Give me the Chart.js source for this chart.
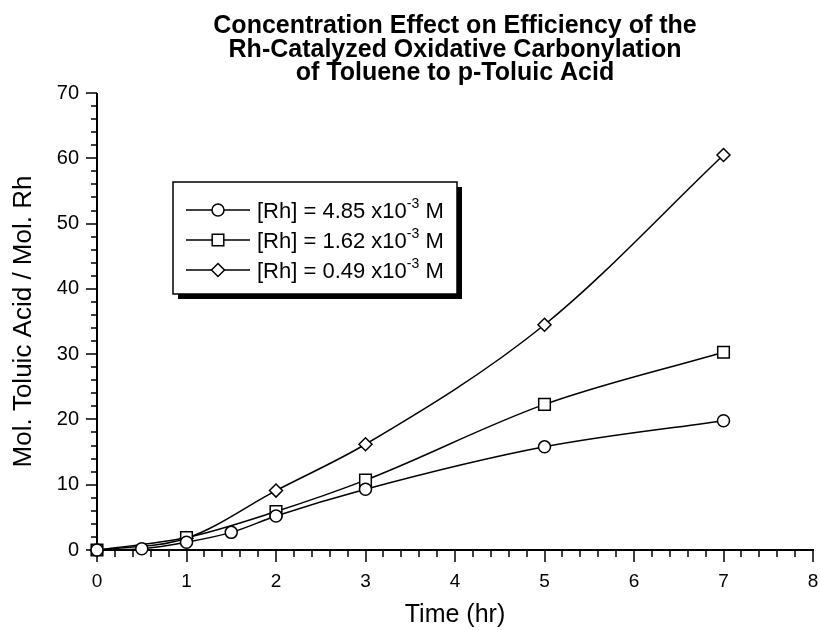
<!DOCTYPE html>
<html><head><meta charset="utf-8">
<script src="https://cdn.jsdelivr.net/npm/chart.js@4/dist/chart.umd.min.js"></script>
<style>html,body{margin:0;padding:0;background:#fff}#wrap{width:820px;height:630px;position:relative}</style>
</head><body><div id="wrap"><canvas id="c" width="820" height="630"></canvas></div>
<script>
const titleLines = ['Concentration Effect on Efficiency of the', 'Rh-Catalyzed Oxidative Carbonylation', 'of Toluene to p-Toluic Acid'];
const xTitle = 'Time (hr)';
const yTitle = 'Mol. Toluic Acid / Mol. Rh';
const seriesConc = ['4.85', '1.62', '0.49'];
const seriesMarkers = ['circle', 'rect', 'rectRot'];

const timeA = [0, 0.5, 1, 1.5, 2, 3, 5, 7];
const valuesA = [0, 0.2, 1.2, 2.7, 5.2, 9.3, 15.8, 19.8];
const timeB = [0, 1, 2, 3, 5, 7];
const valuesB = [0, 1.9, 5.9, 10.7, 22.3, 30.3];
const timeC = [0, 1, 2, 3, 5, 7];
const valuesC = [0, 1.8, 9.1, 16.2, 34.5, 60.5];

const xMin = 0, xMax = 8, xMajor = 1, xMinor = 0.2;
const yMin = 0, yMax = 70, yMajor = 10, yMinor = 2;

const FONT = '"Liberation Sans", Arial, sans-serif';
const markerRadius = {circle: 6, rect: 8.2, rectRot: 6.5};

function pts(xs, ys) { return xs.map((x, i) => ({x: x, y: ys[i]})); }

function drawMarker(ctx, style, x, y) {
  const r = markerRadius[style];
  ctx.save();
  ctx.fillStyle = '#fff';
  ctx.strokeStyle = '#000';
  ctx.lineWidth = 1.5;
  ctx.beginPath();
  if (style === 'circle') {
    ctx.arc(x, y, r, 0, Math.PI * 2);
  } else if (style === 'rect') {
    const s = Math.SQRT1_2 * r;
    ctx.rect(x - s, y - s, 2 * s, 2 * s);
  } else {
    ctx.moveTo(x, y - r); ctx.lineTo(x + r, y); ctx.lineTo(x, y + r); ctx.lineTo(x - r, y); ctx.closePath();
  }
  ctx.fill(); ctx.stroke();
  ctx.restore();
}

const axesPlugin = {
  id: 'axesTicks',
  beforeDatasetsDraw(chart) {
    const ctx = chart.ctx, xs = chart.scales.x, ys = chart.scales.y;
    const left = xs.left, bottom = ys.bottom;
    ctx.save();
    ctx.strokeStyle = '#000';
    ctx.lineWidth = 2;
    ctx.beginPath();
    ctx.moveTo(left, ys.top); ctx.lineTo(left, bottom + 1);
    ctx.moveTo(left - 1, bottom); ctx.lineTo(xs.right + 1, bottom);
    ctx.stroke();
    ctx.lineWidth = 1.5;
    ctx.beginPath();
    const nx = Math.round((xMax - xMin) / xMinor);
    for (let i = 0; i <= nx; i++) {
      const v = xMin + i * xMinor;
      const px = Math.round(xs.getPixelForValue(v));
      const major = i % Math.round(xMajor / xMinor) === 0;
      ctx.moveTo(px, bottom); ctx.lineTo(px, bottom + (major ? 12 : 7));
    }
    const ny = Math.round((yMax - yMin) / yMinor);
    for (let i = 0; i <= ny; i++) {
      const v = yMin + i * yMinor;
      const py = Math.round(ys.getPixelForValue(v));
      const major = i % Math.round(yMajor / yMinor) === 0;
      ctx.moveTo(left, py); ctx.lineTo(left - (major ? 11 : 6), py);
    }
    ctx.stroke();
    ctx.restore();
  },
  afterDraw(chart) {
    const ctx = chart.ctx;
    const area = chart.chartArea;
    ctx.save();
    // title (centred over the plot area)
    ctx.fillStyle = '#000';
    ctx.font = 'bold 25px ' + FONT;
    ctx.textAlign = 'center';
    ctx.textBaseline = 'alphabetic';
    const cx = (area.left + area.right) / 2;
    titleLines.forEach((t, i) => ctx.fillText(t, cx, 33 + i * 23.5));
    // legend box
    const bx = 173, by = 182, bw = 284, bh = 112;
    ctx.fillStyle = '#000';
    ctx.fillRect(bx + 5, by + 5, bw, bh);
    ctx.fillStyle = '#fff';
    ctx.fillRect(bx, by, bw, bh);
    ctx.strokeStyle = '#000';
    ctx.lineWidth = 1.5;
    ctx.strokeRect(bx, by, bw, bh);
    const rows = [210, 240, 270];
    seriesConc.forEach((c, i) => {
      const y = rows[i];
      ctx.strokeStyle = '#000';
      ctx.lineWidth = 1.5;
      ctx.beginPath(); ctx.moveTo(186, y); ctx.lineTo(250, y); ctx.stroke();
      drawMarker(ctx, seriesMarkers[i], 218, y);
      ctx.fillStyle = '#000';
      ctx.textAlign = 'left';
      ctx.textBaseline = 'alphabetic';
      ctx.font = '22px ' + FONT;
      const main = '[Rh] = ' + c + ' x10';
      let x = 257;
      ctx.fillText(main, x, y + 8);
      x += ctx.measureText(main).width;
      ctx.font = '14px ' + FONT;
      ctx.fillText('-3', x, y - 2);
      x += ctx.measureText('-3').width;
      ctx.font = '22px ' + FONT;
      ctx.fillText(' M', x, y + 8);
    });
    ctx.restore();
  }
};

const lineCommon = {
  borderColor: '#000', borderWidth: 1.5, backgroundColor: '#fff',
  pointBackgroundColor: '#fff', pointBorderColor: '#000', pointBorderWidth: 1.5,
  cubicInterpolationMode: 'monotone', fill: false, clip: false
};

new Chart(document.getElementById('c'), {
  type: 'line',
  data: {
    datasets: [
      Object.assign({label: '[Rh] = ' + seriesConc[0] + ' x10-3 M', data: pts(timeA, valuesA), pointStyle: seriesMarkers[0], pointRadius: markerRadius.circle}, lineCommon),
      Object.assign({label: '[Rh] = ' + seriesConc[1] + ' x10-3 M', data: pts(timeB, valuesB), pointStyle: seriesMarkers[1], pointRadius: markerRadius.rect}, lineCommon),
      Object.assign({label: '[Rh] = ' + seriesConc[2] + ' x10-3 M', data: pts(timeC, valuesC), pointStyle: seriesMarkers[2], pointRadius: markerRadius.rectRot}, lineCommon)
    ]
  },
  options: {
    responsive: false, animation: false, devicePixelRatio: 1,
    layout: {autoPadding: false, padding: {top: 93, right: 7, left: 0, bottom: 0}},
    plugins: {legend: {display: false}, title: {display: false}, tooltip: {enabled: false}},
    scales: {
      x: {
        type: 'linear', min: xMin, max: xMax,
        grid: {display: false, drawTicks: false}, border: {display: false},
        ticks: {stepSize: xMajor, padding: 20, color: '#000', font: {size: 19, family: FONT}, maxRotation: 0},
        title: {display: true, text: xTitle, color: '#000', font: {size: 25, family: FONT}, padding: {top: 0, bottom: 0}},
        afterFit(s) { s.height = 80; s.paddingLeft = 0; s.paddingRight = 0; }
      },
      y: {
        type: 'linear', min: yMin, max: yMax,
        grid: {display: false, drawTicks: false}, border: {display: false},
        ticks: {stepSize: yMajor, padding: 18, color: '#000', font: {size: 20, family: FONT}},
        title: {display: true, text: yTitle, color: '#000', font: {size: 26, family: FONT}, padding: {top: 8, bottom: 0}},
        afterFit(s) { s.width = 97; s.paddingTop = 0; s.paddingBottom = 0; }
      }
    }
  },
  plugins: [axesPlugin]
});
</script>
</body></html>
